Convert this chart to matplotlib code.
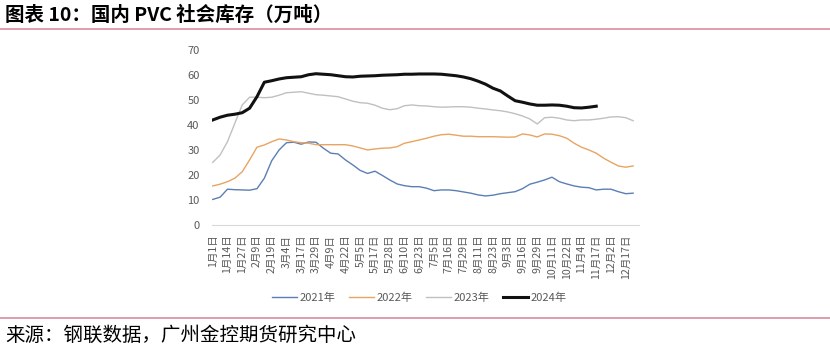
import matplotlib
matplotlib.use("Agg")
import matplotlib.pyplot as plt
from matplotlib.lines import Line2D

plt.rcParams["font.family"] = ["Noto Sans CJK SC", "DejaVu Sans"]

# 周度数据，横轴每隔一周标注一次
tick_labels = ["1月1日", "1月14日", "1月27日", "2月9日", "2月19日", "3月4日", "3月17日",
               "3月29日", "4月9日", "4月22日", "5月5日", "5月17日", "5月28日", "6月10日",
               "6月23日", "7月5日", "7月16日", "7月29日", "8月11日", "8月23日", "9月3日",
               "9月16日", "9月29日", "10月11日", "10月22日", "11月4日", "11月17日",
               "12月2日", "12月17日"]

y2021 = [10.2, 11.1, 14.3, 14.1, 14.0, 13.9, 14.5, 18.7, 25.7, 30.0, 32.9, 33.1, 32.3,
         33.2, 33.1, 30.7, 28.7, 28.4, 26.0, 24.0, 21.8, 20.6, 21.5, 19.8, 18.0, 16.4,
         15.7, 15.3, 15.3, 14.7, 13.7, 14.0, 14.0, 13.7, 13.2, 12.7, 12.0, 11.6, 11.9,
         12.5, 12.9, 13.3, 14.5, 16.3, 17.1, 18.0, 19.1, 17.3, 16.4, 15.6, 15.1, 14.9,
         14.0, 14.3, 14.3, 13.3, 12.5, 12.7]
y2022 = [15.6, 16.3, 17.3, 18.7, 21.3, 26.0, 31.1, 32.0, 33.3, 34.4, 34.0, 33.3, 32.9,
         32.7, 32.1, 32.1, 32.1, 32.1, 32.1, 31.6, 30.8, 30.0, 30.4, 30.7, 30.8, 31.3,
         32.7, 33.3, 34.0, 34.7, 35.5, 36.1, 36.3, 35.9, 35.5, 35.5, 35.3, 35.3, 35.3,
         35.2, 35.1, 35.2, 36.4, 36.0, 35.2, 36.4, 36.3, 35.7, 34.7, 32.7, 31.1, 30.0,
         28.7, 26.7, 25.1, 23.6, 23.1, 23.6]
y2023 = [25.0, 28.0, 33.3, 40.7, 48.0, 51.1, 51.1, 50.9, 51.1, 51.9, 52.9, 53.1, 53.3,
         52.7, 52.1, 51.9, 51.6, 51.3, 50.4, 49.5, 48.9, 48.7, 47.9, 46.7, 46.1, 46.5,
         47.7, 48.0, 47.7, 47.6, 47.3, 47.1, 47.2, 47.3, 47.3, 47.1, 46.7, 46.4, 46.0,
         45.7, 45.2, 44.5, 43.6, 42.4, 40.4, 42.9, 43.1, 42.7, 42.0, 41.7, 42.0, 42.0,
         42.3, 42.7, 43.2, 43.3, 42.9, 41.7]
y2024 = [42.0, 43.1, 43.9, 44.3, 44.9, 46.7, 51.3, 57.1, 57.7, 58.4, 58.9, 59.1, 59.3,
         60.1, 60.5, 60.3, 60.1, 59.7, 59.3, 59.2, 59.5, 59.6, 59.7, 59.9, 60.0, 60.1,
         60.3, 60.3, 60.4, 60.4, 60.4, 60.3, 60.0, 59.7, 59.2, 58.5, 57.5, 56.3, 54.7,
         53.6, 51.6, 49.7, 49.1, 48.4, 47.9, 47.9, 48.0, 47.9, 47.5, 46.9, 46.8, 47.1,
         47.5]

series = [("2021年", y2021, "#5B7FB4", 1.0),
          ("2022年", y2022, "#E8A462", 1.0),
          ("2023年", y2023, "#C0C0C0", 1.0),
          ("2024年", y2024, "#111111", 2.2)]

fig = plt.figure(figsize=(8.3, 3.52), dpi=100)
ax = fig.add_axes([0.2554, 0.361, 0.5145, 0.497])

for name, vals, color, lw in series:
    ax.plot(range(len(vals)), vals, color=color, lw=lw, label=name)

ax.set_ylim(0, 70)
ax.set_yticks(range(0, 71, 10))
ax.set_xlim(-0.1, 57.8)
ax.set_xticks(range(0, 2 * len(tick_labels), 2))
ax.set_xticklabels(tick_labels, rotation=90, fontsize=7.6, color="#595959")
ax.tick_params(axis="y", labelsize=8, labelcolor="#595959", length=0, pad=9)
ax.tick_params(axis="x", length=0, pad=7)
for s in ["top", "right", "left"]:
    ax.spines[s].set_visible(False)
ax.spines["bottom"].set_color("#D9D9D9")

handles = [Line2D([], [], color=c, lw=lw) for _, _, c, lw in series]
fig.legend(handles, [s[0] for s in series], loc="center", bbox_to_anchor=(0.505, 0.155),
           ncol=4, frameon=False, fontsize=8, labelcolor="#595959",
           handlelength=2.3, handletextpad=0.2, columnspacing=1.2)

# 标题、来源和分隔线
fig.text(0.006, 0.958, "图表 10：国内 PVC 社会库存（万吨）", fontsize=14,
         fontweight="bold", va="center", ha="left")
fig.text(0.006, 0.047, "来源：钢联数据，广州金控期货研究中心", fontsize=14,
         va="center", ha="left")
fig.add_artist(Line2D([0, 1], [0.918, 0.918], color="#D98C9E", lw=1.2))
fig.add_artist(Line2D([0, 1], [0.096, 0.096], color="#D98C9E", lw=1.2))

plt.savefig("out.png", dpi=100)
